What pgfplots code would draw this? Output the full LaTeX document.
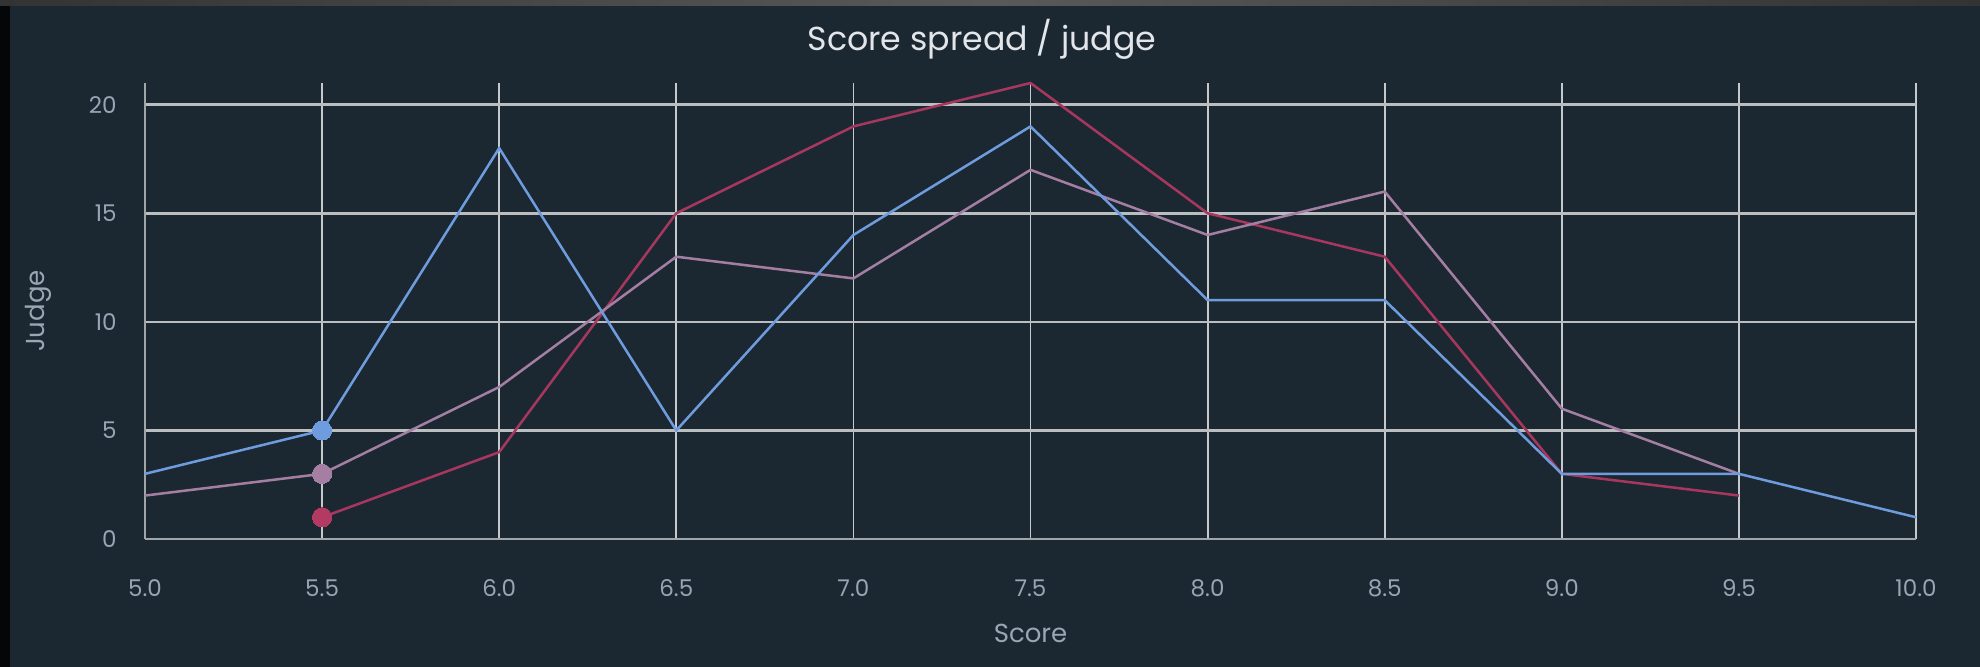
\documentclass[border=0pt]{standalone}
\usepackage{pgfplots}
\pgfplotsset{compat=1.18}
\usepackage{fontspec}
\setmainfont{Poppins}
\definecolor{bg}{HTML}{1C2831}
\definecolor{sblue}{HTML}{6E9CDE}
\definecolor{smauve}{HTML}{A57FA3}
\definecolor{sred}{HTML}{A8375F}
\definecolor{mred}{HTML}{B23A63}
\definecolor{tick}{HTML}{97A6B5}
\definecolor{lab}{HTML}{9AA6B1}
\definecolor{ttl}{HTML}{E2E6EA}
\begin{document}
\begin{tikzpicture}
\useasboundingbox (0,0) rectangle (990pt,333.5pt);
\fill[bg] (0,0) rectangle (990pt,333.5pt);
\fill[black!85!bg] (0,0) rectangle (5pt,333.5pt);
\shade[left color=black!80!white, right color=black!80!white, middle color=black!65!white] (0,330.5pt) rectangle (990pt,333.5pt);
\node[font=\fontsize{16.6}{19}\selectfont, text=ttl] at (491pt,314pt) {Score spread / judge};
\begin{axis}[
  at={(72.5pt,64pt)}, anchor=south west,
  scale only axis, width=885.5pt, height=228pt,
  xmin=5, xmax=10, ymin=0, ymax=21,
  xtick={5,5.5,...,10}, ytick={0,5,10,15,20},
  major tick length=0pt,
  grid=major,
  major x grid style={color=white!75!bg, line width=0.9pt},
  major y grid style={color=white!70!bg, line width=1.3pt},
  axis x line*=bottom, axis y line*=left,
  x axis line style={color=white!58!bg, line width=1.1pt, -},
  y axis line style={color=white!58!bg, line width=1pt, -},
  /pgf/number format/assume math mode=true,
  xticklabel style={/pgf/number format/.cd, fixed, fixed zerofill, precision=1, /tikz/.cd, anchor=center, yshift=-24.5pt, text=tick, font=\fontsize{11.5}{13}\selectfont},
  yticklabel style={anchor=east, inner sep=0pt, xshift=-14pt, text=tick, font=\fontsize{11.5}{13}\selectfont},
  xlabel={Score}, ylabel={Judge},
  xlabel style={at={(axis description cs:0.5,0)}, anchor=center, yshift=-47pt, text=lab, font=\fontsize{13}{15}\selectfont},
  ylabel style={at={(axis description cs:-0.0604,0.5)}, anchor=center, text=lab, font=\fontsize{13}{15}\selectfont},
  clip=false,
]
\addplot[sred, line width=1.25pt, mark=none] coordinates {(5.5,1) (6.0,4) (6.5,15) (7.0,19) (7.5,21) (8.0,15) (8.5,13) (9.0,3) (9.5,2)};
\addplot[smauve, line width=1.25pt, mark=none] coordinates {(5.0,2) (5.5,3) (6.0,7) (6.5,13) (7.0,12) (7.5,17) (8.0,14) (8.5,16) (9.0,6) (9.5,3)};
\addplot[sblue, line width=1.25pt, mark=none] coordinates {(5.0,3) (5.5,5) (6.0,18) (6.5,5) (7.0,14) (7.5,19) (8.0,11) (8.5,11) (9.0,3) (9.5,3) (10.0,1)};
\addplot[mred, only marks, mark=*, mark size=4.8pt, mark options={fill=mred, draw=mred, line width=0pt}] coordinates {(5.5,1)};
\addplot[smauve, only marks, mark=*, mark size=4.8pt, mark options={fill=smauve, draw=smauve, line width=0pt}] coordinates {(5.5,3)};
\addplot[sblue, only marks, mark=*, mark size=4.8pt, mark options={fill=sblue, draw=sblue, line width=0pt}] coordinates {(5.5,5)};
\end{axis}
\end{tikzpicture}
\end{document}
